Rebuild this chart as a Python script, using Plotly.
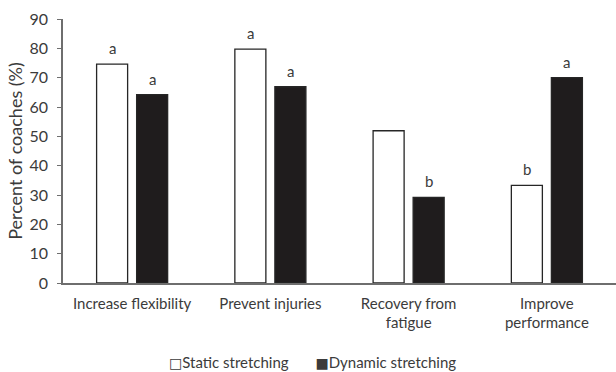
import plotly.graph_objects as go

categories = ["Increase flexibility", "Prevent injuries", "Recovery from<br>fatigue", "Improve<br>performance"]
static_vals = [74.6, 79.7, 51.9, 33.3]
dynamic_vals = [64.2, 66.9, 29.2, 70.0]
static_letters = ["a", "a", "", "b"]
dynamic_letters = ["a", "a", "b", "a"]
y_ticks = [0, 10, 20, 30, 40, 50, 60, 70, 80, 90]
series_names = ["Static stretching", "Dynamic stretching"]

FONT = "Lato"
TEXT = "#3b3b3b"
EDGE = "#262626"
AXIS = "#6e6e6e"

fig = go.Figure()
fig.add_trace(go.Bar(
    x=categories, y=static_vals, name=series_names[0],
    marker=dict(color="white", line=dict(color=EDGE, width=1.3)),
))
fig.add_trace(go.Bar(
    x=categories, y=dynamic_vals, name=series_names[1],
    marker=dict(color="#1f1c1d", line=dict(color=EDGE, width=1.3)),
))

# significance letters above each bar
for cat, v, t in zip(categories, static_vals, static_letters):
    if t:
        fig.add_annotation(x=cat, y=v, text=t, showarrow=False, xshift=-20,
                           yanchor="bottom", yshift=5,
                           font=dict(family=FONT, size=15, color=TEXT))
for cat, v, t in zip(categories, dynamic_vals, dynamic_letters):
    if t:
        fig.add_annotation(x=cat, y=v, text=t, showarrow=False, xshift=20,
                           yanchor="bottom", yshift=5,
                           font=dict(family=FONT, size=15, color=TEXT))

# legend row: open / filled squares followed by the series names
SQ = '<span style="font-family:DejaVu Sans;font-size:14px">{}</span>'
fig.add_annotation(
    xref="paper", yref="paper", x=0.452, y=-0.30, xanchor="center", yanchor="middle",
    showarrow=False,
    text=SQ.format("□") + series_names[0] + "       " + SQ.format("■") + series_names[1],
    font=dict(family=FONT, size=15, color=TEXT),
)

fig.update_layout(
    width=616, height=372,
    margin=dict(l=63, r=0, t=19, b=89),
    paper_bgcolor="white", plot_bgcolor="white",
    barmode="group", bargap=0.421, bargroupgap=0.225,
    font=dict(family=FONT, size=15, color=TEXT),
    showlegend=False,
)
fig.update_xaxes(
    automargin=False,
    showline=True, linecolor=AXIS, linewidth=1.5,
    ticks="", showgrid=False, ticklabelstandoff=6,
    tickfont=dict(family=FONT, size=15, color=TEXT),
)
fig.update_yaxes(
    automargin=False,
    range=[0, 90], tickvals=y_ticks, showgrid=False, zeroline=False,
    showline=True, linecolor=AXIS, linewidth=1.5,
    ticks="outside", ticklen=4, tickcolor=AXIS, ticklabelstandoff=6,
    tickfont=dict(family=FONT, size=16, color=TEXT),
    title=dict(text="Percent of coaches (%)", font=dict(family=FONT, size=18, color=TEXT), standoff=2),
)

fig.write_html("out.html")
